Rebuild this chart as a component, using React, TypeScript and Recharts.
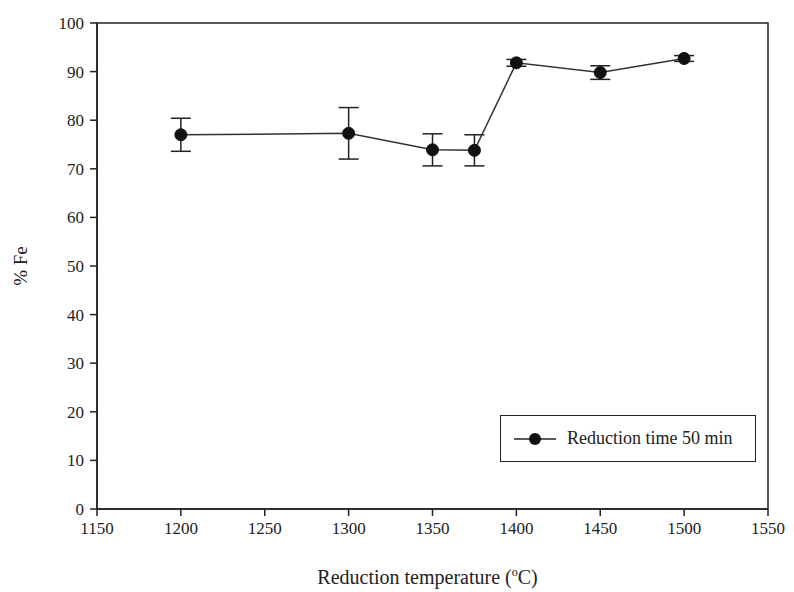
import React from "react";
import {
  ComposedChart, Line, XAxis, YAxis, ErrorBar, ReferenceArea, Legend, Label,
} from "recharts";

const temperatures = [1200, 1300, 1350, 1375, 1400, 1450, 1500];
const feValues = [77.0, 77.3, 73.9, 73.8, 91.8, 89.8, 92.7];
const feErrors = [3.4, 5.3, 3.3, 3.2, 0.7, 1.4, 0.6];
const xTicks = [1150, 1200, 1250, 1300, 1350, 1400, 1450, 1500, 1550];
const yTicks = [0, 10, 20, 30, 40, 50, 60, 70, 80, 90, 100];
const seriesName = "Reduction time 50 min";

const data = temperatures.map((t, i) => ({ temp: t, fe: feValues[i], err: feErrors[i] }));

const FONT = "'Liberation Serif', 'Times New Roman', serif";
const INK = "#222";

function LegendBox() {
  return (
    <div
      style={{
        position: "absolute", left: 500, top: 415, width: 256, height: 47,
        border: `1.5px solid ${INK}`, boxSizing: "border-box", background: "#fff",
        display: "flex", alignItems: "center", fontFamily: FONT, fontSize: 18, color: INK,
      }}
    >
      <svg width={42} height={14} style={{ marginLeft: 13, marginRight: 11 }}>
        <line x1={0} y1={7} x2={42} y2={7} stroke={INK} strokeWidth={1.5} />
        <circle cx={21} cy={7} r={6} fill="#111" />
      </svg>
      {seriesName}
    </div>
  );
}

// x-axis title with a superscript degree "o"
// eslint-disable-next-line @typescript-eslint/no-explicit-any
function XTitle({ viewBox }: any) {
  const cx = viewBox.x + viewBox.width / 2 - 5;
  const y = 584;
  return (
    <text x={cx} y={y} textAnchor="middle" fontFamily={FONT} fontSize={20} fill={INK}>
      Reduction temperature (
      <tspan dy={-8} fontSize={12}>o</tspan>
      <tspan dy={8}>C)</tspan>
    </text>
  );
}

export default function App() {
  return (
    <div style={{ position: "absolute", left: 0, top: 0, width: 794, height: 592, background: "#fff" }}>
      <ComposedChart
        width={794}
        height={592}
        data={data}
        margin={{ top: 23, right: 26, bottom: 0, left: 0 }}
      >
        <ReferenceArea x1={1150} x2={1550} y1={0} y2={100} fill="none" stroke={INK} strokeWidth={1.5} />
        <XAxis
          type="number"
          dataKey="temp"
          domain={[1150, 1550]}
          ticks={xTicks}
          interval={0}
          height={83}
          tickSize={7}
          tickMargin={6}
          stroke={INK}
          strokeWidth={1.5}
          tick={{ fontFamily: FONT, fontSize: 17, fill: INK }}
        >
          <Label content={<XTitle />} />
        </XAxis>
        <YAxis
          type="number"
          domain={[0, 100]}
          ticks={yTicks}
          interval={0}
          width={97}
          tickSize={7}
          tickMargin={6}
          stroke={INK}
          strokeWidth={1.5}
          tick={{ fontFamily: FONT, fontSize: 17, fill: INK }}
        >
          <Label
            value="% Fe"
            angle={-90}
            position="insideLeft"
            offset={20}
            style={{ fontFamily: FONT, fontSize: 19, fill: INK, textAnchor: "middle" }}
          />
        </YAxis>
        <Legend verticalAlign="middle" align="center" layout="horizontal" content={() => <LegendBox />} wrapperStyle={{ left: 0, top: 0 }} />
        <Line
          dataKey="fe"
          name={seriesName}
          stroke="#333"
          strokeWidth={1.5}
          dot={{ r: 6, fill: "#111", stroke: "#111", strokeWidth: 1 }}
          activeDot={false}
          isAnimationActive={false}
        >
          <ErrorBar dataKey="err" width={10} stroke={INK} strokeWidth={1.5} direction="y" />
        </Line>
      </ComposedChart>
    </div>
  );
}
